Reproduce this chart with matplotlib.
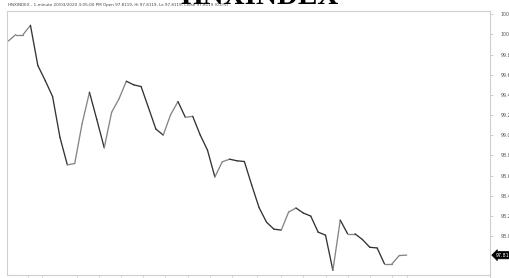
import matplotlib
matplotlib.use("Agg")
import matplotlib.pyplot as plt
import numpy as np
from matplotlib.collections import LineCollection
from matplotlib.lines import Line2D
import matplotlib.transforms as mtransforms

# ---- data (5-minute bars) ----
closes = [99.934, 99.998, 99.998, 100.090, 99.692, 99.543, 99.384, 98.979, 98.707, 98.720,
          99.115, 99.426, 99.155, 98.876, 99.227, 99.361, 99.536, 99.500, 99.483, 99.274,
          99.062, 99.002, 99.204, 99.334, 99.178, 99.188, 99.005, 98.853, 98.587, 98.737,
          98.763, 98.747, 98.740, 98.505, 98.282, 98.139, 98.070, 98.060, 98.239, 98.279,
          98.229, 98.199, 98.040, 98.010, 97.661, 98.159, 98.023, 98.023, 97.967, 97.890,
          97.883, 97.724, 97.724, 97.808, 97.8119]
tick_labels = ["14:45", "Mar 20", "09:30", "09:45", "10:00", "10:15", "10:30", "10:45",
               "11:00", "11:15", "11:30", "13:15", "13:30", "13:45", "14:00", "14:15",
               "14:30", "14:50"]
tick_bars = [2.6, 4.6, 9.3, 12.3, 15.3, 18.3, 21.3, 24.3, 27.3, 30.3, 33.7, 37.0, 40.0,
             43.0, 46.0, 49.0, 52.0, 54.0]
y_ticks = [100.2, 100.0, 99.8, 99.6, 99.4, 99.2, 99.0, 98.8, 98.6, 98.4, 98.2, 98.0]
header = ("HNXINDEX - 1-minute 20/03/2020 3:05:00 PM Open 97.8119, Hi 97.8119, "
          "Lo 97.8119, Close 97.8119 (0.0%)")
title = "HNXINDEX"

W, H = 509, 278
fig = plt.figure(figsize=(W / 100, H / 100), dpi=100)
fig.patch.set_facecolor("white")

left, right, top, bottom = 7, 490, 10.7, 275
ax = fig.add_axes([left / W, 1 - bottom / H, (right - left) / W, (bottom - top) / H])

x = np.arange(len(closes))
y = np.array(closes)
pts = np.column_stack([x, y])
segs = np.stack([pts[:-1], pts[1:]], axis=1)
cols = ["#333333" if y[i + 1] < y[i] else "#858585" for i in range(len(y) - 1)]
lc = LineCollection(segs, colors=cols, linewidths=0.95, capstyle="round", joinstyle="round")
ax.add_collection(lc)

ax.set_xlim(-0.18, 65.3)
ax.set_ylim(97.615, 100.235)

for s in ax.spines.values():
    s.set_color("#cfcfcf")
    s.set_linewidth(0.8)

ax.yaxis.tick_right()
ax.set_yticks(y_ticks)
ax.set_yticklabels([f"{v:.2f}" for v in y_ticks])
ax.tick_params(axis="y", which="both", length=2, width=0.5, color="#bbbbbb",
               labelsize=3.4, labelcolor="#555555", pad=5.5)

ax.set_xticks(tick_bars)
ax.set_xticklabels(tick_labels)
for lbl in ax.get_xticklabels():
    if lbl.get_text().startswith("Mar"):
        lbl.set_fontweight("bold")
ax.tick_params(axis="x", length=1.5, width=0.5, color="#bbbbbb",
               labelsize=3.4, labelcolor="#555555", pad=0.6)

# extend right border to the bottom of the figure
fig.add_artist(Line2D([right / W, right / W], [0, 1 - bottom / H], color="#cfcfcf", lw=0.8))

# last value marker
trans = mtransforms.blended_transform_factory(ax.transAxes, ax.transData)
ax.text(1.012, closes[-1], f"{closes[-1]:.4f}", transform=trans, ha="left", va="center",
        fontsize=3.4, color="white", clip_on=False,
        bbox=dict(boxstyle="larrow,pad=0.25", fc="black", ec="black", lw=0.5))

# header and title
fig.text(8 / W, 1 - 4.8 / H, header, fontsize=3.0, color="#444444", ha="left", va="center")
fig.text(0.51, 1 - 4.2 / H, title, fontsize=21, fontweight="bold", family="Liberation Serif",
         color="black", ha="center", va="baseline")

fig.savefig("out.png", dpi=100, facecolor="white")
